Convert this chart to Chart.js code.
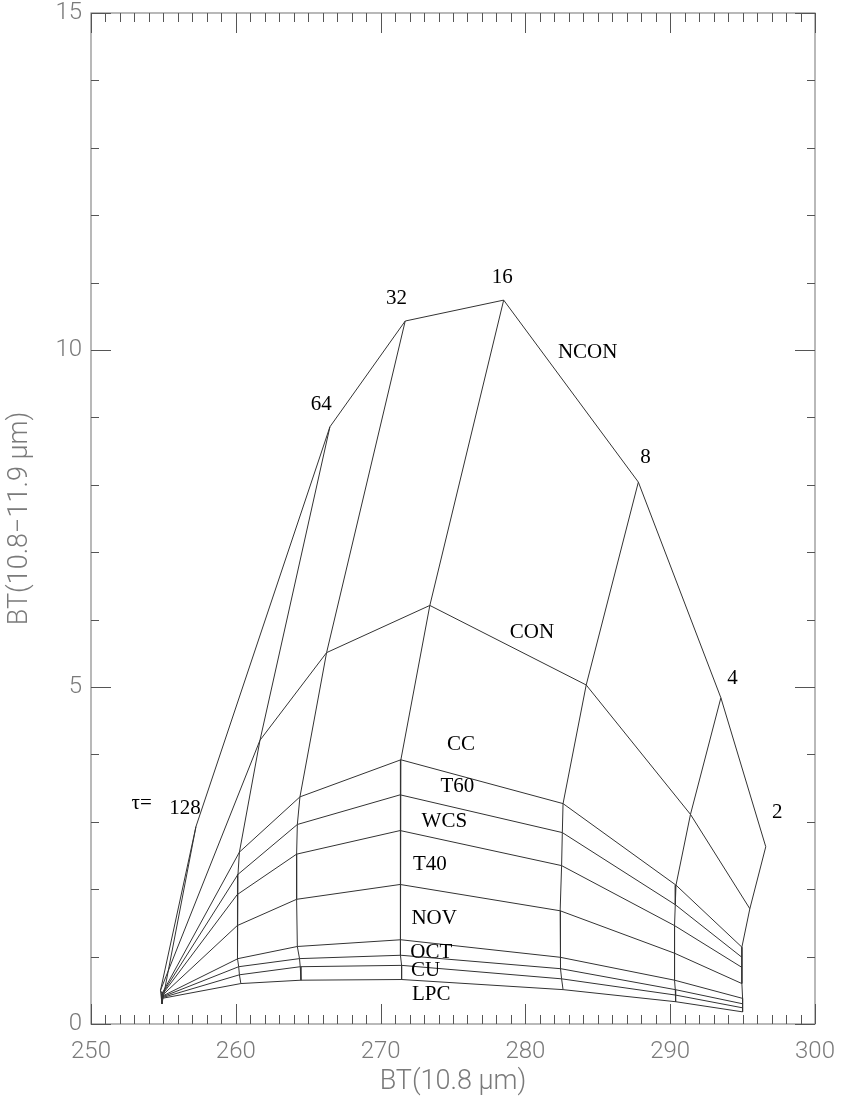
<!DOCTYPE html>
<html>
<head>
<meta charset="utf-8">
<script src="https://cdn.jsdelivr.net/npm/chart.js@4.4.1/dist/chart.umd.min.js"></script>
<style>
    html, body { margin: 0; padding: 0; background: #fff; }
</style>
</head>
<body>
<canvas id="chart" width="841" height="1099"></canvas>
<script>
// optical depth columns (tau), one point per cloud type at each
const tauValues = [128, 64, 32, 16, 8, 4, 2];
const cloudTypes = ['NCON', 'CON', 'CC', 'T60', 'WCS', 'T40', 'NOV', 'OCT', 'CU', 'LPC'];

// common start point of every curve
const startBT = [254.9];
const startBTD = [0.30];

// BT(10.8) and BTD for each type, ordered as tauValues
const btNCON  = [257.25, 266.5, 271.7, 278.5, 287.8, 293.5, 296.6];
const btdNCON = [2.93, 8.86, 10.43, 10.74, 8.04, 4.84, 2.63];
const btCON   = [254.8, 261.67, 266.27, 273.4, 284.2, 291.4, 295.5];
const btdCON  = [0.50, 4.21, 5.51, 6.21, 5.03, 3.11, 1.71];
const btCC    = [254.9, 260.25, 264.43, 271.4, 282.6, 290.4, 294.95];
const btdCC   = [0.45, 2.55, 3.37, 3.92, 3.27, 2.06, 1.14];
const btT60   = [254.9, 260.15, 264.25, 271.35, 282.55, 290.35, 294.95];
const btdT60  = [0.44, 2.22, 2.96, 3.40, 2.84, 1.77, 0.99];
const btWCS   = [254.9, 260.1, 264.2, 271.35, 282.5, 290.3, 294.95];
const btdWCS  = [0.43, 1.92, 2.52, 2.87, 2.35, 1.46, 0.84];
const btT40   = [254.9, 260.1, 264.2, 271.35, 282.4, 290.3, 294.95];
const btdT40  = [0.42, 1.46, 1.85, 2.07, 1.68, 1.05, 0.60];
const btNOV   = [254.9, 260.15, 264.25, 271.4, 282.4, 290.3, 295.0];
const btdNOV  = [0.41, 0.97, 1.15, 1.25, 0.99, 0.65, 0.38];
const btOCT   = [254.9, 260.2, 264.4, 271.4, 282.45, 290.35, 295.0];
const btdOCT  = [0.40, 0.85, 0.97, 1.02, 0.82, 0.51, 0.30];
const btCU    = [254.9, 260.25, 264.45, 271.45, 282.5, 290.35, 295.0];
const btdCU   = [0.39, 0.73, 0.85, 0.87, 0.67, 0.43, 0.24];
const btLPC   = [254.9, 260.35, 264.5, 271.45, 282.6, 290.4, 295.0];
const btdLPC  = [0.38, 0.60, 0.65, 0.66, 0.51, 0.33, 0.18];

// in-plot text labels (data coordinates)
const labelTexts = ['τ=', '128', '64', '32', '16', '8', '4', '2',
                    'NCON', 'CON', 'CC', 'T60', 'WCS', 'T40', 'NOV', 'OCT', 'CU', 'LPC'];
const labelBT  = [253.5, 256.5, 265.9, 271.1, 278.4, 288.3, 294.3, 297.4,
                  284.3, 280.45, 275.55, 275.3, 274.4, 273.4, 273.7, 273.5, 273.1, 273.5];
const labelBTD = [3.27, 3.2, 9.19, 10.77, 11.08, 8.41, 5.13, 3.14,
                  9.97, 5.81, 4.15, 3.52, 3.0, 2.37, 1.57, 1.06, 0.79, 0.44];

// axis ticks
const xTicksMajor = [250, 260, 270, 280, 290, 300];
const yTicksMajor = [0, 5, 10, 15];

const btRows  = [btNCON, btCON, btCC, btT60, btWCS, btT40, btNOV, btOCT, btCU, btLPC];
const btdRows = [btdNCON, btdCON, btdCC, btdT60, btdWCS, btdT40, btdNOV, btdOCT, btdCU, btdLPC];

const LINE_COLOR = '#333';
const AXIS_COLOR = '#8a8a8a';
const TEXT_GRAY = '#7a7a7a';

function lineDataset(label, points) {
    return {
        label: label,
        data: points,
        showLine: true,
        borderColor: LINE_COLOR,
        borderWidth: 1,
        pointRadius: 0,
        tension: 0,
        fill: false
    };
}

const datasets = [];
// one curve per cloud type
cloudTypes.forEach((name, i) => {
    const pts = [{ x: startBT[0], y: startBTD[0] }];
    btRows[i].forEach((bt, j) => pts.push({ x: bt, y: btdRows[i][j] }));
    datasets.push(lineDataset(name, pts));
});
// one line per tau, across the types
tauValues.forEach((tau, j) => {
    const pts = cloudTypes.map((name, i) => ({ x: btRows[i][j], y: btdRows[i][j] }));
    datasets.push(lineDataset('tau ' + tau, pts));
});

// frame with inward ticks on all four sides
const frameTicks = {
    id: 'frameTicks',
    afterDatasetsDraw(chart) {
        const { ctx, chartArea: a, scales: { x, y } } = chart;
        ctx.save();
        ctx.strokeStyle = AXIS_COLOR;
        ctx.lineWidth = 1.2;
        ctx.strokeRect(a.left, a.top, a.right - a.left, a.bottom - a.top);
        ctx.strokeStyle = '#555';
        ctx.lineWidth = 1;
        ctx.beginPath();
        for (let v = x.min; v <= x.max; v += 1) {
            const px = Math.round(x.getPixelForValue(v)) + 0.5;
            const len = xTicksMajor.includes(v) ? 20 : 9;
            ctx.moveTo(px, a.bottom); ctx.lineTo(px, a.bottom - len);
            ctx.moveTo(px, a.top); ctx.lineTo(px, a.top + len);
        }
        for (let v = y.min; v <= y.max; v += 1) {
            const py = Math.round(y.getPixelForValue(v)) + 0.5;
            const len = yTicksMajor.includes(v) ? 20 : 8;
            ctx.moveTo(a.left, py); ctx.lineTo(a.left + len, py);
            ctx.moveTo(a.right, py); ctx.lineTo(a.right - len, py);
        }
        ctx.stroke();
        ctx.restore();
    }
};

// serif labels inside the plot
const plotLabels = {
    id: 'plotLabels',
    afterDatasetsDraw(chart) {
        const { ctx, scales: { x, y } } = chart;
        ctx.save();
        ctx.fillStyle = '#000';
        ctx.font = '21px "Liberation Serif", "DejaVu Serif", serif';
        ctx.textAlign = 'center';
        ctx.textBaseline = 'middle';
        labelTexts.forEach((t, i) => {
            ctx.fillText(t, x.getPixelForValue(labelBT[i]), y.getPixelForValue(labelBTD[i]));
        });
        ctx.restore();
    }
};

// drop the automatic label overhang so the plot box sits where the layout padding puts it
function noOverhang(scale) {
    scale.paddingTop = 0;
    scale.paddingBottom = 0;
    scale.paddingLeft = 0;
    scale.paddingRight = 0;
}

const ctx = document.getElementById('chart').getContext('2d');
new Chart(ctx, {
    type: 'scatter',
    data: { datasets: datasets },
    options: {
        responsive: false,
        animation: false,
        layout: { padding: { top: 13, right: 26, left: 0, bottom: 0 } },
        plugins: {
            legend: { display: false },
            tooltip: { enabled: false }
        },
        scales: {
            x: {
                type: 'linear',
                min: 250,
                max: 300,
                grid: { display: false, drawTicks: false },
                border: { display: false },
                ticks: {
                    stepSize: 10,
                    padding: 14,
                    color: TEXT_GRAY,
                    font: { family: 'Roboto', weight: '300', size: 24 }
                },
                title: {
                    display: true,
                    text: 'BT(10.8 μm)',
                    color: TEXT_GRAY,
                    padding: { top: 0, bottom: 1 },
                    font: { family: 'Roboto', weight: '300', size: 27 }
                },
                afterFit(scale) { scale.height = 75; noOverhang(scale); }
            },
            y: {
                type: 'linear',
                min: 0,
                max: 15,
                grid: { display: false, drawTicks: false },
                border: { display: false },
                ticks: {
                    stepSize: 5,
                    padding: 9,
                    color: TEXT_GRAY,
                    font: { family: 'Roboto', weight: '300', size: 24 }
                },
                title: {
                    display: true,
                    text: 'BT(10.8−11.9 μm)',
                    color: TEXT_GRAY,
                    padding: { top: 4, bottom: 0 },
                    font: { family: 'Roboto', weight: '300', size: 27 }
                },
                afterFit(scale) { scale.width = 91; noOverhang(scale); }
            }
        }
    },
    plugins: [frameTicks, plotLabels]
});
</script>
</body>
</html>
